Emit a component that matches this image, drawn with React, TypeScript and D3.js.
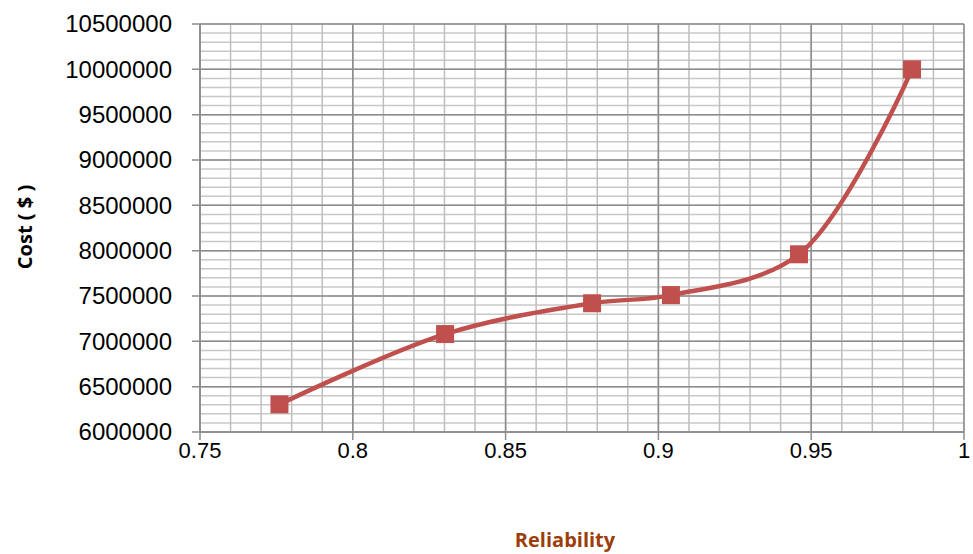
import React from "react";
import * as d3 from "d3";

const reliability = [0.776, 0.8302, 0.8783, 0.9041, 0.946, 0.983];
const cost = [6305000, 7080000, 7420000, 7510000, 7960000, 10000000];
const xTicks = [0.75, 0.8, 0.85, 0.9, 0.95, 1];
const yTicks = [6000000, 6500000, 7000000, 7500000, 8000000, 8500000, 9000000, 9500000, 10000000, 10500000];

const W = 973;
const H = 554;
const L = 200, R = 964, T = 24, B = 432;

export default function App() {
  const x = d3.scaleLinear().domain([0.75, 1]).range([L, R]);
  const y = d3.scaleLinear().domain([6000000, 10500000]).range([B, T]);
  const minorX = d3.range(75, 101).map((v) => v / 100);
  const minorY = d3.range(60, 106).map((v) => v * 100000);
  const pts: [number, number][] = reliability.map((r, i) => [x(r), y(cost[i])]);
  const line = d3.line().curve(d3.curveCatmullRom.alpha(0.5))(pts) || "";
  const color = "#C0504D";
  return (
    <svg width={W} height={H} style={{ position: "absolute", left: 0, top: 0, background: "#fff" }}>
      <g>
        {minorY.map((v) => (
          <line key={"my" + v} x1={L} x2={R} y1={y(v)} y2={y(v)} stroke="#C8C8C8" strokeWidth={1.5} />
        ))}
        {minorX.map((v) => (
          <line key={"mx" + v} x1={x(v)} x2={x(v)} y1={T} y2={B} stroke="#BEBEBE" strokeWidth={1.5} />
        ))}
        {yTicks.map((v) => (
          <line key={"Y" + v} x1={L - 8} x2={R} y1={y(v)} y2={y(v)} stroke="#8C8C8C" strokeWidth={1.5} />
        ))}
        {xTicks.map((v) => (
          <line key={"X" + v} x1={x(v)} x2={x(v)} y1={T} y2={B + 8} stroke="#8C8C8C" strokeWidth={1.5} />
        ))}
        <line x1={L} x2={L} y1={T} y2={B} stroke="#8C8C8C" strokeWidth={1.5} />
        <line x1={L} x2={R} y1={B} y2={B} stroke="#8C8C8C" strokeWidth={1.5} />
      </g>
      <g fontFamily="Liberation Sans, Arial, sans-serif" fill="#000">
        {yTicks.map((v) => (
          <text key={"yl" + v} x={172} y={y(v)} dy="0.35em" textAnchor="end" fontSize={24}>
            {String(v)}
          </text>
        ))}
        {xTicks.map((v) => (
          <text key={"xl" + v} x={x(v)} y={458} textAnchor="middle" fontSize={22}>
            {String(v)}
          </text>
        ))}
      </g>
      <path d={line} fill="none" stroke={color} strokeWidth={4.5} strokeLinecap="round" />
      {pts.map(([px, py], i) => (
        <rect key={"m" + i} x={px - 9} y={py - 9} width={18} height={18} fill={color} />
      ))}
      <text
        transform={`translate(32,227) rotate(-90)`}
        textAnchor="middle"
        fontFamily="Open Sans, sans-serif"
        fontWeight="bold"
        fontSize={20}
        fill="#000"
      >
        Cost ( $ )
      </text>
      <text x={565} y={547} textAnchor="middle" fontFamily="Open Sans, sans-serif" fontWeight="bold" fontSize={20} fill="#9C3D0A">
        Reliability
      </text>
    </svg>
  );
}
